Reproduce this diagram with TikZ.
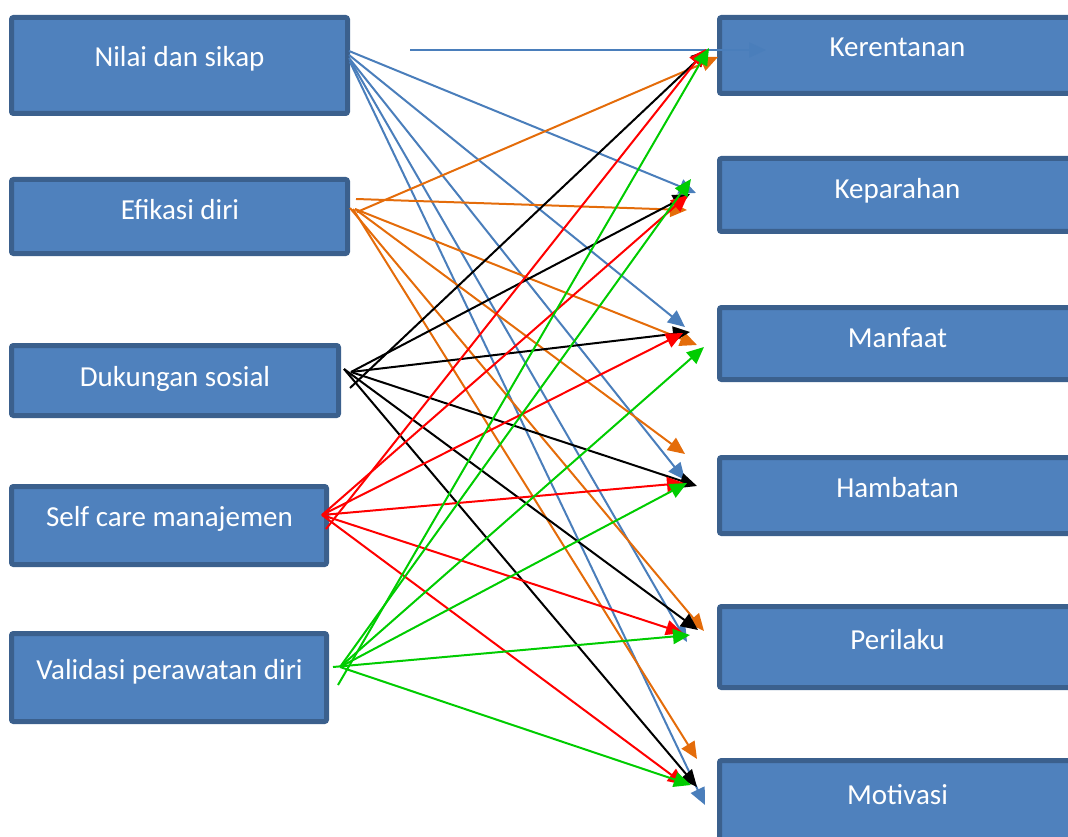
\documentclass[tikz,border=0pt]{standalone}
\usepackage{fontspec}
\setmainfont{Carlito}
\usetikzlibrary{arrows.meta}
\definecolor{boxfill}{HTML}{4F81BD}
\definecolor{boxedge}{HTML}{3B608D}
\definecolor{lnblue}{HTML}{4A7EBB}
\definecolor{lnorange}{HTML}{E46C0A}
\definecolor{lnred}{HTML}{FF0000}
\definecolor{lngreen}{HTML}{00CC00}
\begin{document}
\begin{tikzpicture}[x=1pt,y=-1pt,
  box/.style={draw=boxedge, fill=boxfill, line width=5pt, rounded corners=2pt, inner sep=0pt},
  lbl/.style={text=white, font=\fontsize{29}{34}\selectfont, anchor=base, inner sep=0pt},
  link/.style={line width=2pt, -{Triangle[length=17pt,width=15pt]}},
]
\useasboundingbox (0,0) rectangle (1068,837);
\clip (0,0) rectangle (1068,837);

% factor boxes (left)
\node[box, minimum width=336pt, minimum height=96pt] (nilai) at (179.5,65.5) {};
\node[box, minimum width=336pt, minimum height=74pt] (efikasi) at (179.5,216.5) {};
\node[box, minimum width=327pt, minimum height=70pt] (dukungan) at (175,380.5) {};
\node[box, minimum width=315pt, minimum height=78pt] (selfcare) at (169,525.5) {};
\node[box, minimum width=315pt, minimum height=88pt] (validasi) at (169,677.5) {};
% outcome boxes (right)
\node[box, minimum width=353pt, minimum height=76pt] (kerentanan) at (896,55.5) {};
\node[box, minimum width=353pt, minimum height=73pt] (keparahan) at (896,195) {};
\node[box, minimum width=353pt, minimum height=72pt] (manfaat) at (896,343.5) {};
\node[box, minimum width=353pt, minimum height=76pt] (hambatan) at (896,495.5) {};
\node[box, minimum width=353pt, minimum height=81pt] (perilaku) at (896,647) {};
\node[box, minimum width=353pt, minimum height=82pt] (motivasi) at (896,801.5) {};

% labels
\node[lbl] (nilai-t) at (179.5,67) {Nilai dan sikap};
\node[lbl] (efikasi-t) at (180,219) {Efikasi diri};
\node[lbl] (dukungan-t) at (175,386) {Dukungan sosial};
\node[lbl] (selfcare-t) at (169.5,526) {Self care manajemen};
\node[lbl] (validasi-t) at (169.5,679) {Validasi perawatan diri};
\node[lbl] (kerentanan-t) at (897.5,57) {Kerentanan};
\node[lbl] (keparahan-t) at (897.5,199) {Keparahan};
\node[lbl] (manfaat-t) at (897.5,347) {Manfaat};
\node[lbl] (hambatan-t) at (897.5,497) {Hambatan};
\node[lbl] (perilaku-t) at (897.5,649) {Perilaku};
\node[lbl] (motivasi-t) at (897.5,804) {Motivasi};

% line ends
\coordinate (b0s) at (410,50);  \coordinate (b0t) at (766,50);
\coordinate (b1s) at (349,51);  \coordinate (b1t) at (696,193);
\coordinate (b2s) at (349,55);  \coordinate (b2t) at (685,327);
\coordinate (b3s) at (349,58);  \coordinate (b3t) at (685,480);
\coordinate (b4s) at (350,60);  \coordinate (b4t) at (687,642);
\coordinate (b5s) at (350,62);  \coordinate (b5t) at (705,805);

\coordinate (o1s) at (357,212); \coordinate (o1t) at (718,57);
\coordinate (o2s) at (356,199); \coordinate (o2t) at (687,210);
\coordinate (o3s) at (355,209); \coordinate (o3t) at (697,345);
\coordinate (o4s) at (355,209); \coordinate (o4t) at (685,454);
\coordinate (o5s) at (350,208); \coordinate (o5t) at (704,631);
\coordinate (o6s) at (353,209); \coordinate (o6t) at (697,759);

\coordinate (k1s) at (350,388); \coordinate (k1t) at (708,50);
\coordinate (k2s) at (351,372); \coordinate (k2t) at (690,194);
\coordinate (k3s) at (351,372); \coordinate (k3t) at (690,332);
\coordinate (k4s) at (351,372); \coordinate (k4t) at (697,486);
\coordinate (k5s) at (344,369); \coordinate (k5t) at (698,630);
\coordinate (k6s) at (344,369); \coordinate (k6t) at (697,787);

\coordinate (r1s) at (326,529); \coordinate (r1t) at (706,49);
\coordinate (r2s) at (322,515); \coordinate (r2t) at (688,195);
\coordinate (r3s) at (322,515); \coordinate (r3t) at (683,333);
\coordinate (r4s) at (322,515); \coordinate (r4t) at (684,483);
\coordinate (r5s) at (322,515); \coordinate (r5t) at (683,633);
\coordinate (r6s) at (322,515); \coordinate (r6t) at (685,785);

\coordinate (g1s) at (338,685); \coordinate (g1t) at (709,48);
\coordinate (g2s) at (340,667); \coordinate (g2t) at (691,179);
\coordinate (g3s) at (340,667); \coordinate (g3t) at (704,347);
\coordinate (g4s) at (340,667); \coordinate (g4t) at (687,483);
\coordinate (g5s) at (333,667); \coordinate (g5t) at (690,635);
\coordinate (g6s) at (340,667); \coordinate (g6t) at (691,785);

% connectors
\foreach \c in {b0,b1,b2,b3,b4,b5} \draw[link, lnblue] (\c s) -- (\c t);
\foreach \c in {o1,o2,o3,o4,o5,o6} \draw[link, lnorange] (\c s) -- (\c t);
\foreach \c in {k1,k2,k3,k4,k5,k6} \draw[link, black] (\c s) -- (\c t);
\foreach \c in {r1,r2,r3,r4,r5,r6} \draw[link, lnred] (\c s) -- (\c t);
\foreach \c in {g1,g2,g3,g4,g5,g6} \draw[link, lngreen] (\c s) -- (\c t);
\end{tikzpicture}
\end{document}
